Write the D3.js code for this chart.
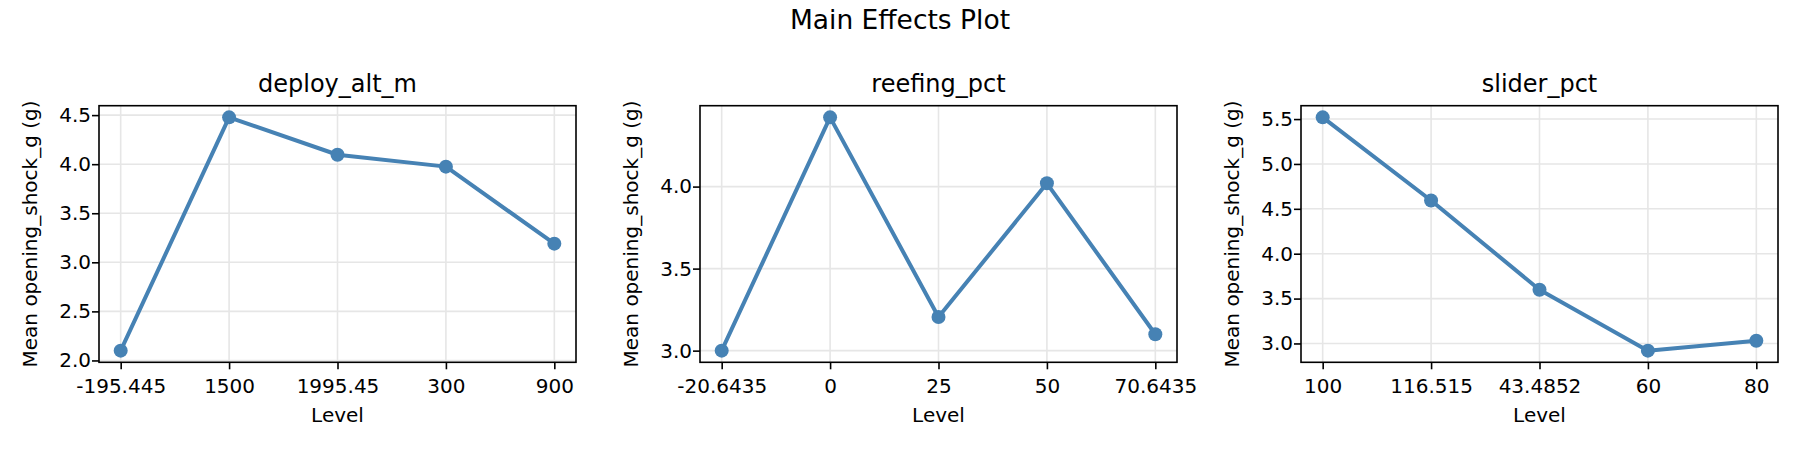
<!DOCTYPE html>
<html>
<head>
<meta charset="utf-8">
<script src="https://cdn.jsdelivr.net/npm/d3@7"></script>
<style>
  html, body { margin: 0; padding: 0; background: #ffffff; }
  svg { display: block; font-family: "DejaVu Sans", sans-serif; }
</style>
</head>
<body>
<svg id="chart" width="1800" height="450"></svg>
<script>
// ---- data ----
const figureTitle = "Main Effects Plot";
const factorNames = ["deploy_alt_m", "reefing_pct", "slider_pct"];
const yAxisLabel = "Mean opening_shock_g (g)";
const xAxisLabel = "Level";

const deployLevels = ["-195.445", "1500", "1995.45", "300", "900"];
const deployMeans = [2.10, 4.477, 4.096, 3.975, 3.19];
const deployTicks = [2.0, 2.5, 3.0, 3.5, 4.0, 4.5];

const reefingLevels = ["-20.6435", "0", "25", "50", "70.6435"];
const reefingMeans = [3.00, 4.422, 3.205, 4.02, 3.10];
const reefingTicks = [3.0, 3.5, 4.0];

const sliderLevels = ["100", "116.515", "43.4852", "60", "80"];
const sliderMeans = [5.519, 4.593, 3.598, 2.92, 3.03];
const sliderTicks = [3.0, 3.5, 4.0, 4.5, 5.0, 5.5];

const panels = [
  { name: factorNames[0], levels: deployLevels, means: deployMeans, ticks: deployTicks },
  { name: factorNames[1], levels: reefingLevels, means: reefingMeans, ticks: reefingTicks },
  { name: factorNames[2], levels: sliderLevels, means: sliderMeans, ticks: sliderTicks }
];

// ---- layout ----
const svg = d3.select("#chart");
const panelLefts = [99, 700, 1301];
const panelW = 477;
const axTop = 105.7, axBottom = 362.3;
const lineColor = "#4682b4";
const gridColor = "#e6e6e6";

svg.append("text")
  .attr("x", 900).attr("y", 28.5)
  .attr("text-anchor", "middle")
  .attr("font-size", 26.5)
  .attr("fill", "#000")
  .text(figureTitle);

panels.forEach((p, i) => {
  const left = panelLefts[i], right = left + panelW;
  const x = d3.scalePoint().domain(p.levels).range([left, right]).padding(0.2);
  const [mn, mx] = d3.extent(p.means);
  const pad = (mx - mn) * 0.05;
  const y = d3.scaleLinear().domain([mn - pad, mx + pad]).range([axBottom, axTop]);

  const g = svg.append("g");

  // grid
  g.append("g").selectAll("line").data(p.levels).join("line")
    .attr("x1", d => x(d)).attr("x2", d => x(d))
    .attr("y1", axTop).attr("y2", axBottom)
    .attr("stroke", gridColor).attr("stroke-width", 1.6);
  g.append("g").selectAll("line").data(p.ticks).join("line")
    .attr("x1", left).attr("x2", right)
    .attr("y1", d => y(d)).attr("y2", d => y(d))
    .attr("stroke", gridColor).attr("stroke-width", 1.6);

  // axes
  const xa = g.append("g").attr("transform", `translate(0,${axBottom})`)
    .call(d3.axisBottom(x).tickSize(7).tickPadding(10));
  const ya = g.append("g").attr("transform", `translate(${left},0)`)
    .call(d3.axisLeft(y).tickValues(p.ticks).tickFormat(d3.format(".1f")).tickSize(7).tickPadding(1));
  [xa, ya].forEach(a => {
    a.select(".domain").remove();
    a.selectAll(".tick line").attr("stroke", "#000").attr("stroke-width", 1.6);
    a.selectAll(".tick text").attr("fill", "#000").attr("font-size", 20)
      .attr("font-family", "DejaVu Sans, sans-serif");
  });

  // line + markers
  const pts = p.levels.map((l, k) => ({ l, v: p.means[k] }));
  g.append("path").datum(pts)
    .attr("fill", "none").attr("stroke", lineColor).attr("stroke-width", 4)
    .attr("stroke-linejoin", "round")
    .attr("d", d3.line().x(d => x(d.l)).y(d => y(d.v)));
  g.append("g").selectAll("circle").data(pts).join("circle")
    .attr("cx", d => x(d.l)).attr("cy", d => y(d.v)).attr("r", 7)
    .attr("fill", lineColor);

  // frame
  g.append("rect").attr("x", left).attr("y", axTop)
    .attr("width", panelW).attr("height", axBottom - axTop)
    .attr("fill", "none").attr("stroke", "#000").attr("stroke-width", 1.6);

  // titles and labels
  g.append("text").attr("x", (left + right) / 2).attr("y", 92.3)
    .attr("text-anchor", "middle").attr("font-size", 24).attr("fill", "#000")
    .text(p.name);
  g.append("text").attr("x", (left + right) / 2).attr("y", 421.7)
    .attr("text-anchor", "middle").attr("font-size", 20).attr("fill", "#000")
    .text(xAxisLabel);
  g.append("text")
    .attr("transform", `translate(${left - 61.7},${(axTop + axBottom) / 2}) rotate(-90)`)
    .attr("text-anchor", "middle").attr("font-size", 20).attr("fill", "#000")
    .text(yAxisLabel);
});
</script>
</body>
</html>
